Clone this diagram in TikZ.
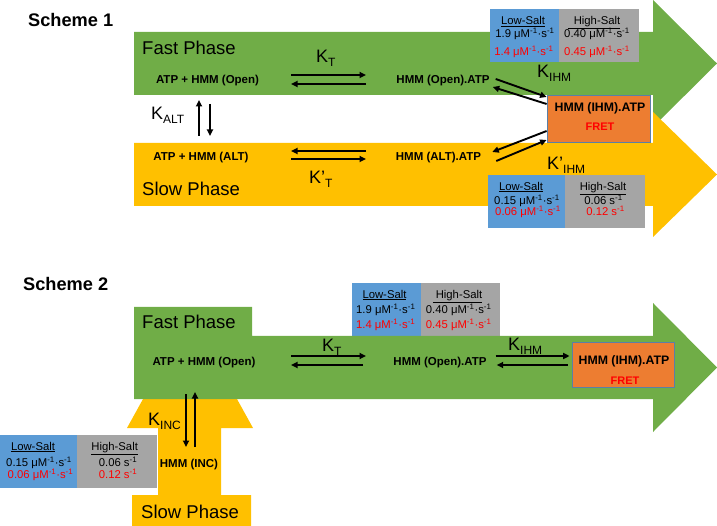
\documentclass[tikz,border=0pt]{standalone}
\usepackage{fontspec}
\setmainfont{Liberation Sans}
\usetikzlibrary{arrows.meta,calc}
\definecolor{cgreen}{HTML}{70AD47}
\definecolor{cyellow}{HTML}{FFC000}
\definecolor{corange}{HTML}{ED7D31}
\definecolor{cblue}{HTML}{5B9BD5}
\definecolor{cgray}{HTML}{A5A5A5}
\definecolor{cred}{HTML}{FF0000}
\definecolor{cborder}{HTML}{5B7FA6}
\newcommand{\Ksub}[2]{K#1\raisebox{-4pt}{\fontsize{12}{12}\selectfont #2}}
\newcommand{\uMs}{μM\textsuperscript{-1}·s\textsuperscript{-1}}
\newcommand{\sinv}{s\textsuperscript{-1}}
\begin{document}
\begin{tikzpicture}[x=1pt,y=-1pt,
  lbl/.style={font=\fontsize{11.5}{13}\selectfont\bfseries, inner sep=0, text height=8.2pt, text depth=0pt},
  boxlbl/.style={font=\fontsize{12.3}{14}\selectfont\bfseries, inner sep=0, text height=8.8pt, text depth=0pt},
  fret/.style={font=\fontsize{11}{13}\selectfont\bfseries, text=cred, inner sep=0, text height=7.9pt, text depth=0pt},
  tbl/.style={font=\fontsize{11.3}{13}\selectfont, inner sep=0, text height=8.1pt, text depth=0pt},
  tblred/.style={tbl, text=cred},
  phase/.style={font=\fontsize{18.5}{20}\selectfont, inner sep=0, anchor=base west},
  schemetitle/.style={font=\fontsize{18.2}{20}\selectfont\bfseries, inner sep=0, anchor=base west},
  klbl/.style={font=\fontsize{18}{20}\selectfont, inner sep=0, anchor=base west},
  ihmbox/.style={draw=cborder, fill=corange, line width=0.8pt, inner sep=0},
  arr/.style={line width=1.9pt, -{Triangle[length=6.5pt,width=6pt]}},
]
\useasboundingbox (0,0) rectangle (717,526);

% ================= Scheme 1 =================
\fill[cgreen] (134,32) -- (653,32) -- (653,0) -- (717,63.5) -- (653,127) -- (653,95) -- (134,95) -- cycle;
\fill[cyellow] (134,143) -- (653,143) -- (653,112) -- (717,174.5) -- (653,237) -- (653,206) -- (134,206) -- cycle;
\fill[cblue] (490,9) rectangle (559,62);
\fill[cgray] (559,9) rectangle (639,62);
\fill[cblue] (488,175) rectangle (565,228);
\fill[cgray] (565,175) rectangle (645,228);
\node[ihmbox, minimum width=103pt, minimum height=47pt] (ihm1) at (598.5,118.5) {};

\node[schemetitle] (sch1) at (28,27) {Scheme 1};
\node[phase] (fp1) at (142,55) {Fast Phase};
\node[phase] (sp1) at (142,196) {Slow Phase};

\node[lbl] (a1o) at (207.5,79) {ATP + HMM (Open)};
\node[lbl] (h1o) at (443,79) {HMM (Open).ATP};
\node[lbl] (a1a) at (201,156) {ATP + HMM (ALT)};
\node[lbl] (h1a) at (438.5,156) {HMM (ALT).ATP};
\node[boxlbl] (ihmt1) at (600,107.5) {HMM (IHM).ATP};
\node[fret] (fret1) at (600,126.5) {FRET};

\node[klbl] (kt1) at (316,63) {\Ksub{}{T}};
\node[klbl] (kalt) at (151,120) {\Ksub{}{ALT}};
\node[klbl] (ktp1) at (309,184) {\Ksub{’}{T}};
\node[klbl] (kihm1) at (537,78) {\Ksub{}{IHM}};
\node[klbl] (kihmp1) at (547,170) {\Ksub{’}{IHM}};

% tables scheme 1
\node[tbl] (ls1) at (523,20.5) {\underline{Low-Salt}};
\node[tbl] (ls1a) at (525,33.5) {1.9 \uMs};
\node[tblred] (ls1b) at (524,51.5) {1.4 \uMs};
\node[tbl] (hs1) at (594,20.5) {\underline{\hspace{6pt}High-Salt}};
\node[tbl] (hs1a) at (597,33.5) {0.40 \uMs};
\node[tblred] (hs1b) at (597,51.5) {0.45 \uMs};

\node[tbl] (ls2) at (521,186) {\underline{Low-Salt}};
\node[tbl] (ls2a) at (527,200.5) {0.15 \uMs};
\node[tblred] (ls2b) at (528,211.5) {0.06 \uMs};
\node[tbl] (hs2) at (603,186) {\underline{High-Salt}};
\node[tbl] (hs2a) at (603.5,200.5) {0.06 \sinv};
\node[tblred] (hs2b) at (605.5,211.5) {0.12 \sinv};

% arrows scheme 1
\coordinate (t1a) at (291,75); \coordinate (t1b) at (366,75);
\coordinate (t1c) at (366,84); \coordinate (t1d) at (291,84);
\draw[arr] (t1a) -- (t1b);
\draw[arr] (t1c) -- (t1d);
\coordinate (tp1a) at (366,151); \coordinate (tp1b) at (291,151);
\coordinate (tp1c) at (291,159); \coordinate (tp1d) at (366,159);
\draw[arr] (tp1a) -- (tp1b);
\draw[arr] (tp1c) -- (tp1d);
\coordinate (al1) at (199,136); \coordinate (al2) at (199,100);
\coordinate (al3) at (210,104); \coordinate (al4) at (210,136);
\draw[arr] (al1) -- (al2);
\draw[arr] (al3) -- (al4);

\draw[arr] ([xshift=6pt]h1o.east) -- ([yshift=21.5pt]ihm1.west);
\draw[arr] ([yshift=14.5pt]ihm1.west) -- ([xshift=3pt,yshift=-8pt]h1o.east);
\draw[arr] ([yshift=-12.5pt]ihm1.west) -- ([xshift=11pt,yshift=4pt]h1a.east);
\draw[arr] ([xshift=15pt,yshift=-5pt]h1a.east) -- ([yshift=-21.5pt]ihm1.west);

% ================= Scheme 2 =================
\fill[cyellow] (132,526) -- (132,495) -- (158,495) -- (158,428) -- (127,428) -- (190,314) -- (253,428) -- (221,428) -- (221,495) -- (251,495) -- (251,526) -- cycle;
\fill[cblue] (352,283) rectangle (421,336);
\fill[cgray] (421,283) rectangle (500,336);
\fill[cgreen] (134,307) -- (252,307) -- (252,336) -- (653,336) -- (653,303) -- (717,367.5) -- (653,432) -- (653,399) -- (134,399) -- cycle;
\fill[cblue] (0,435) rectangle (77,488);
\fill[cgray] (77,435) rectangle (157,488);
\node[ihmbox, minimum width=102pt, minimum height=45pt] (ihm2) at (623,364.5) {};

\node[schemetitle] (sch2) at (23,291) {Scheme 2};
\node[phase] (fp2) at (142,329) {Fast Phase};
\node[phase] (sp2) at (141,518) {Slow Phase};

\node[lbl] (a2o) at (204,361) {ATP + HMM (Open)};
\node[lbl] (h2o) at (440,361) {HMM (Open).ATP};
\node[lbl] (h2inc) at (189,463) {HMM (INC)};
\node[boxlbl] (ihmt2) at (624,360.5) {HMM (IHM).ATP};
\node[fret] (fret2) at (625,380.5) {FRET};

\node[klbl] (kt2) at (322,352) {\Ksub{}{T}};
\node[klbl] (kihm2) at (508,350) {\Ksub{}{IHM}};
\node[klbl] (kinc) at (148,425) {\Ksub{}{INC}};

% tables scheme 2
\node[tbl] (ls3) at (384.5,294) {\underline{Low-Salt}};
\node[tbl] (ls3a) at (385.8,309) {1.9 \uMs};
\node[tblred] (ls3b) at (385.7,324) {1.4 \uMs};
\node[tbl] (hs3) at (457.5,294) {\underline{\hspace{3pt}High-Salt}};
\node[tbl] (hs3a) at (458.7,309) {0.40 \uMs};
\node[tblred] (hs3b) at (458.7,324) {0.45 \uMs};

\node[tbl] (ls4) at (33,446) {\underline{Low-Salt}};
\node[tbl] (ls4a) at (39,462) {0.15 \uMs};
\node[tblred] (ls4b) at (40.5,474) {0.06 \uMs};
\node[tbl] (hs4) at (114.7,446) {\underline{High-Salt}};
\node[tbl] (hs4a) at (118,462) {0.06 \sinv};
\node[tblred] (hs4b) at (118,474) {0.12 \sinv};

% arrows scheme 2
\coordinate (t2a) at (291,356); \coordinate (t2b) at (366,356);
\coordinate (t2c) at (363,365); \coordinate (t2d) at (291,365);
\draw[arr] (t2a) -- (t2b);
\draw[arr] (t2c) -- (t2d);
\draw[arr] ([xshift=9pt,yshift=5pt]h2o.east) -- ([xshift=-2pt,yshift=8.5pt]ihm2.west);
\draw[arr] ([xshift=-4pt,yshift=-0.5pt]ihm2.west) -- ([xshift=10pt,yshift=-4pt]h2o.east);
\coordinate (in1) at (186,394); \coordinate (in2) at (186,447);
\coordinate (in3) at (195,447); \coordinate (in4) at (195,392);
\draw[arr] (in1) -- (in2);
\draw[arr] (in3) -- (in4);
\end{tikzpicture}
\end{document}
